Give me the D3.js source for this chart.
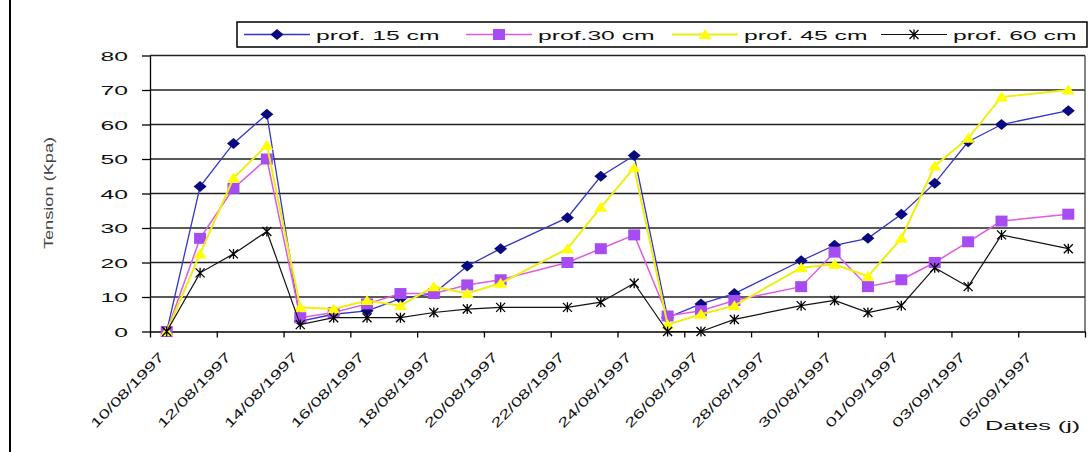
<!DOCTYPE html>
<html>
<head>
<meta charset="utf-8">
<script src="https://cdn.jsdelivr.net/npm/d3@7"></script>
<style>
  body { margin: 0; background: #fff; }
  svg text { font-family: "Liberation Sans", Arial, sans-serif; }
</style>
</head>
<body>
<svg id="chart" width="1091" height="452"></svg>
<script>
// Measurement dates (dd/mm/yyyy)
const dates = [
  "10/08/1997","11/08/1997","12/08/1997","13/08/1997","14/08/1997","15/08/1997",
  "16/08/1997","17/08/1997","18/08/1997","19/08/1997","20/08/1997","22/08/1997",
  "23/08/1997","24/08/1997","25/08/1997","26/08/1997","27/08/1997","29/08/1997",
  "30/08/1997","31/08/1997","01/09/1997","02/09/1997","03/09/1997","04/09/1997",
  "06/09/1997"
];
// Soil water tension (kPa) at each depth
const prof15 = [0, 42, 54.5, 63, 3, 5, 6, 9.5, 11, 19, 24, 33, 45, 51, 4, 8, 11, 20.5, 25, 27, 34, 43, 55, 60, 64];
const prof30 = [0, 27, 41.5, 50, 4, 5.5, 8, 11, 11, 13.5, 15, 20, 24, 28, 4.5, 6, 9, 13, 23, 13, 15, 20, 26, 32, 34];
const prof45 = [0, 22.5, 44.5, 54, 7, 6.5, 9, 7.5, 13, 11, 14, 24, 36, 47.5, 2, 5, 7.5, 18.5, 19.5, 16, 27, 48, 56, 68, 70];
const prof60 = [0, 17, 22.5, 29, 2, 4, 4, 4, 5.5, 6.5, 7, 7, 8.5, 14, 0, 0, 3.5, 7.5, 9, 5.5, 7.5, 18.5, 13, 28, 24];

const seriesNames = ["prof. 15 cm", "prof.30 cm", "prof. 45 cm", "prof. 60 cm"];
const yTicks = [0, 10, 20, 30, 40, 50, 60, 70, 80];
const xTickLabels = [
  "10/08/1997","12/08/1997","14/08/1997","16/08/1997","18/08/1997","20/08/1997","22/08/1997",
  "24/08/1997","26/08/1997","28/08/1997","30/08/1997","01/09/1997","03/09/1997","05/09/1997"
];
const xAxisEnd = "07/09/1997";
const yTitle = "Tension (Kpa)";
const xTitle = "Dates (j)";

const parse = d3.timeParse("%d/%m/%Y");
const svg = d3.select("#chart");

const plot = { left: 150, right: 1085, top: 55.5, bottom: 331.5 };
const x = d3.scaleTime()
  .domain([parse(xTickLabels[0]), parse(xAxisEnd)])
  .range([plot.left, plot.right]);
const y = d3.scaleLinear().domain([0, 80]).range([plot.bottom, plot.top]);

// outer frame edge
svg.append("line").attr("x1", 10).attr("x2", 10).attr("y1", 0).attr("y2", 452)
  .attr("stroke", "#000").attr("stroke-width", 2);

// horizontal gridlines
svg.append("g").selectAll("line").data(yTicks.filter(d => d > 0)).join("line")
  .attr("x1", plot.left).attr("x2", plot.right)
  .attr("y1", d => y(d)).attr("y2", d => y(d))
  .attr("stroke", "#222").attr("stroke-width", 1.7);

// right border of the plot area
svg.append("line").attr("x1", plot.right).attr("x2", plot.right)
  .attr("y1", plot.top).attr("y2", plot.bottom)
  .attr("stroke", "#333").attr("stroke-width", 1.2);

// y axis
const yAxis = svg.append("g").attr("transform", `translate(${plot.left},0)`)
  .call(d3.axisLeft(y).tickValues(yTicks).tickSize(8).tickSizeOuter(0).tickFormat(d3.format("d")));
yAxis.select(".domain").attr("stroke", "#000").attr("stroke-width", 1.3);
yAxis.selectAll(".tick line").attr("stroke", "#000").attr("stroke-width", 1.3);
yAxis.selectAll(".tick text")
  .attr("x", 0).attr("dy", "0.35em")
  .attr("transform", "translate(-22,0) scale(1.9,1)")
  .attr("font-size", 13).attr("fill", "#111").attr("font-family", null);

// x axis
const xTickDates = xTickLabels.map(parse).concat([parse(xAxisEnd)]);
const xAxis = svg.append("g").attr("transform", `translate(0,${plot.bottom})`)
  .call(d3.axisBottom(x).tickValues(xTickDates).tickSize(6).tickSizeOuter(0)
    .tickFormat((d, i) => i < xTickLabels.length ? xTickLabels[i] : ""));
xAxis.select(".domain").attr("stroke", "#000").attr("stroke-width", 1.3);
xAxis.selectAll(".tick line").attr("stroke", "#000").attr("stroke-width", 1.3);
xAxis.selectAll(".tick text")
  .attr("x", 0).attr("y", 0).attr("dy", "0.35em")
  .attr("text-anchor", "end")
  .attr("transform", "translate(11,23) rotate(-46) scale(1.52,1)")
  .attr("font-size", 13).attr("fill", "#111").attr("font-family", null);

// axis titles
svg.append("text")
  .attr("transform", "translate(53,193) rotate(-90) scale(1.4,1)")
  .attr("text-anchor", "middle").attr("font-size", 13).attr("fill", "#444")
  .text(yTitle);
svg.append("text")
  .attr("transform", "translate(985,430) scale(1.94,1)")
  .attr("font-size", 13).attr("fill", "#111")
  .text(xTitle);

// marker shapes
const markers = {
  diamond: "M0,-5.5L6.5,0L0,5.5L-6.5,0Z",
  square: "M-6,-5.5H6V5.5H-6Z",
  triangle: "M0,-5.5L6.5,4.5H-6.5Z",
  star: "M-4.5,-4.5L4.5,4.5M-4.5,4.5L4.5,-4.5M0,-5V5"
};

const styles = [
  { values: prof15, line: "#3535c8", lw: 1.3, marker: "diamond", fill: "#0a0a80", stroke: "none" },
  { values: prof30, line: "#e05ae0", lw: 1.5, marker: "square", fill: "#a64cf2", stroke: "none" },
  { values: prof45, line: "#eeee10", lw: 2, marker: "triangle", fill: "#ffff00", stroke: "none" },
  { values: prof60, line: "#111", lw: 1.2, marker: "star", fill: "none", stroke: "#000" }
];

// points are centred on their day
const xPos = s => x(d3.timeHour.offset(parse(s), 12));
const line = d3.line().x(d => xPos(d.date)).y(d => y(d.v));

styles.forEach(st => {
  const pts = dates.map((d, i) => ({ date: d, v: st.values[i] }));
  const g = svg.append("g");
  g.append("path").datum(pts).attr("d", line)
    .attr("fill", "none").attr("stroke", st.line).attr("stroke-width", st.lw);
  g.selectAll("path.m").data(pts).join("path").attr("class", "m")
    .attr("d", markers[st.marker])
    .attr("transform", d => `translate(${xPos(d.date)},${y(d.v)})`)
    .attr("fill", st.fill).attr("stroke", st.stroke).attr("stroke-width", 1.3);
});

// legend
const legend = svg.append("g");
legend.append("rect").attr("x", 237).attr("y", 22).attr("width", 850).attr("height", 25)
  .attr("fill", "#fff").attr("stroke", "#000").attr("stroke-width", 1.5);
const legendX = [244, 466, 672, 881];
styles.forEach((st, i) => {
  const lx = legendX[i];
  legend.append("line").attr("x1", lx).attr("x2", lx + 66).attr("y1", 34.5).attr("y2", 34.5)
    .attr("stroke", st.line).attr("stroke-width", st.lw);
  legend.append("path").attr("d", markers[st.marker])
    .attr("transform", `translate(${lx + 33},34.5)`)
    .attr("fill", st.fill).attr("stroke", st.stroke).attr("stroke-width", 1.3);
  legend.append("text")
    .attr("transform", `translate(${lx + 72},39.5) scale(1.9,1)`)
    .attr("font-size", 13).attr("fill", "#111")
    .text(seriesNames[i]);
});
</script>
</body>
</html>
